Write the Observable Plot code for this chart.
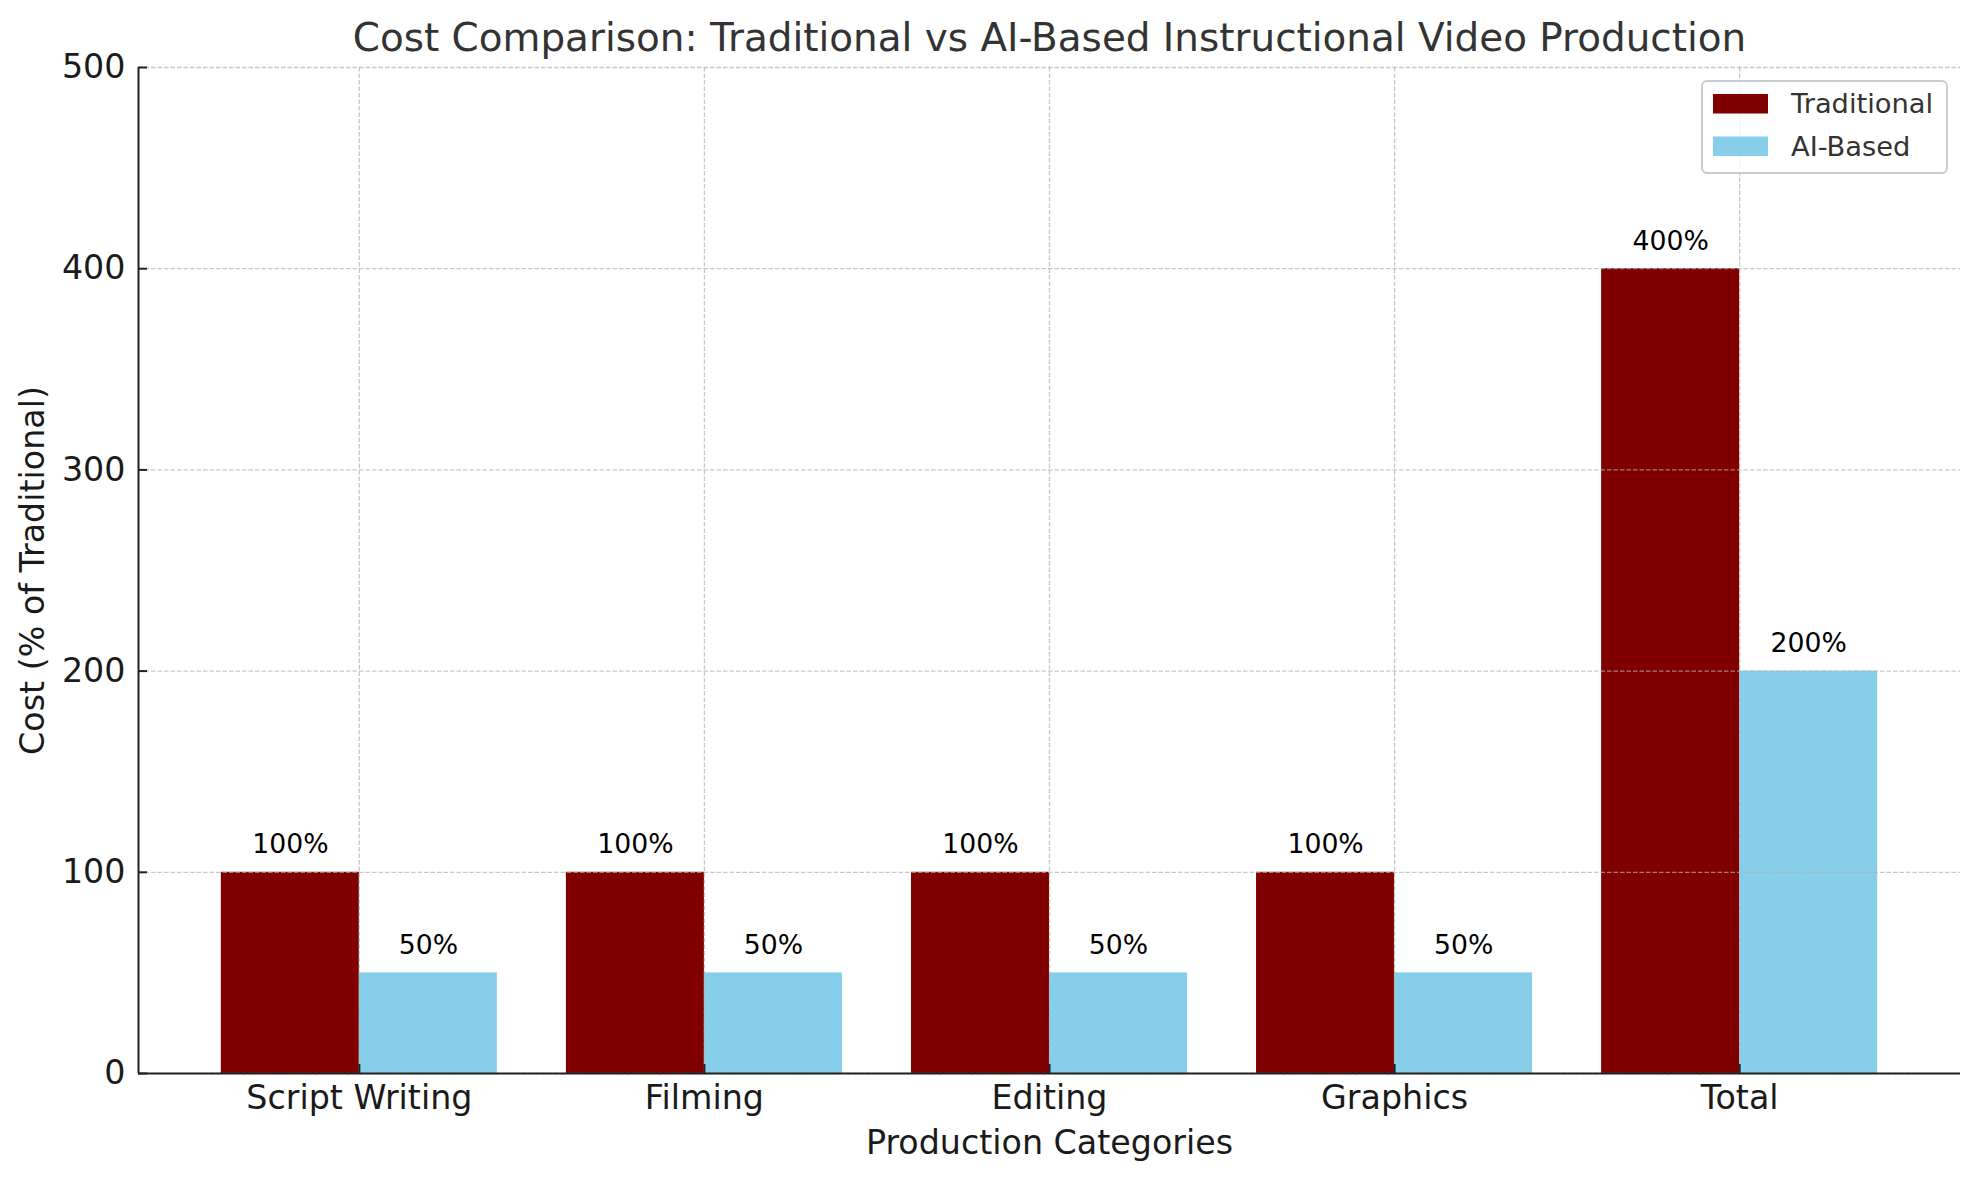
<!DOCTYPE html>
<html>
<head>
<meta charset="utf-8">
<script src="https://cdn.jsdelivr.net/npm/d3@7"></script>
<script src="https://cdn.jsdelivr.net/npm/@observablehq/plot@0.6"></script>
<style>
  html, body { margin: 0; padding: 0; background: white; }
  #chart { width: 1979px; height: 1180px; }
</style>
</head>
<body>
<div id="chart"></div>
<script>
// ---- data ----
const categories = ["Script Writing", "Filming", "Editing", "Graphics", "Total"];
const seriesNames = ["Traditional", "AI-Based"];
const traditional = [100, 100, 100, 100, 400];
const aiBased = [50, 50, 50, 50, 200];
const yTicks = [0, 100, 200, 300, 400, 500];
const seriesColors = ["#800000", "#87CEEB"];
const titleText = "Cost Comparison: Traditional vs AI-Based Instructional Video Production";
const xLabel = "Production Categories";
const yLabel = "Cost (% of Traditional)";

// ---- layout helpers ----
const barWidth = 0.4;
const xIndex = categories.map((_, i) => i);
const xDomain = [-0.64, categories.length - 1 + 0.64];

const rows = categories.flatMap((c, i) => [
  {i, category: c, series: seriesNames[0], value: traditional[i], x1: i - barWidth, x2: i},
  {i, category: c, series: seriesNames[1], value: aiBased[i], x1: i, x2: i + barWidth}
]);

const font = "DejaVu Sans";
const gridStyle = {stroke: "#b0b0b0", strokeOpacity: 0.7, strokeWidth: 1.3, strokeDasharray: "4.5,2"};

function legendMark() {
  return (index, scales, values, dims) => {
    const g = d3.create("svg:g").attr("font-family", font).attr("text-anchor", "start");
    const right = dims.width - dims.marginRight - 13;
    const top = dims.marginTop + 14;
    const w = 245, h = 92;
    g.append("rect")
      .attr("x", right - w).attr("y", top).attr("width", w).attr("height", h)
      .attr("rx", 5).attr("fill", "white").attr("fill-opacity", 0.8)
      .attr("stroke", "#cccccc").attr("stroke-width", 2);
    seriesNames.forEach((s, k) => {
      const y = top + 13 + k * 42.5;
      g.append("rect")
        .attr("x", right - w + 11).attr("y", y).attr("width", 55).attr("height", 19.5)
        .attr("fill", scales.color(s));
      g.append("text")
        .attr("x", right - w + 89).attr("y", y + 9.5).attr("dy", "0.36em")
        .attr("text-anchor", "start")
        .attr("font-size", 27.3).attr("fill", "#333").text(s);
    });
    return g.node();
  };
}

const chart = Plot.plot({
  width: 1979,
  height: 1180,
  marginLeft: 138,
  marginRight: 19,
  marginTop: 67,
  marginBottom: 107,
  style: {fontFamily: font, background: "white", color: "#1a1a1a"},
  x: {type: "linear", domain: xDomain, axis: null},
  y: {domain: [0, 500], axis: null},
  color: {domain: seriesNames, range: seriesColors},
  marks: [
    Plot.rectY(rows, {x1: "x1", x2: "x2", y1: 0, y2: "value", fill: "series"}),
    Plot.ruleY(yTicks, {y: d => d, ...gridStyle}),
    Plot.ruleX(xIndex, {x: d => d, ...gridStyle}),
    Plot.text(rows, {
      x: d => (d.x1 + d.x2) / 2, y: "value", text: d => `${d.value}%`,
      dy: -19, lineAnchor: "bottom", fontSize: 26.7, fill: "black"
    }),
    Plot.ruleY([0], {stroke: "#222", strokeWidth: 2}),
    Plot.ruleX([xDomain[0]], {stroke: "#222", strokeWidth: 2}),
    Plot.axisY(yTicks, {
      tickSize: -9, tickPadding: 22, fontSize: 33.3, stroke: "#222", strokeWidth: 2,
      fill: "#1a1a1a", label: null
    }),
    Plot.axisX(xIndex, {
      tickFormat: i => categories[i], tickSize: -9, tickPadding: 21, fontSize: 33.3,
      stroke: "#222", strokeWidth: 2, fill: "#1a1a1a", label: null
    }),
    Plot.text([titleText], {
      frameAnchor: "top", dy: -17, lineAnchor: "bottom", fontSize: 38.9, fill: "#333"
    }),
    Plot.text([xLabel], {
      frameAnchor: "bottom", dy: 80, lineAnchor: "bottom", fontSize: 33.3, fill: "#1a1a1a"
    }),
    Plot.text([yLabel], {
      frameAnchor: "left", dx: -95, rotate: -90, textAnchor: "middle", lineAnchor: "bottom",
      fontSize: 33.3, fill: "#1a1a1a"
    }),
    legendMark()
  ]
});

document.getElementById("chart").appendChild(chart);
</script>
</body>
</html>
